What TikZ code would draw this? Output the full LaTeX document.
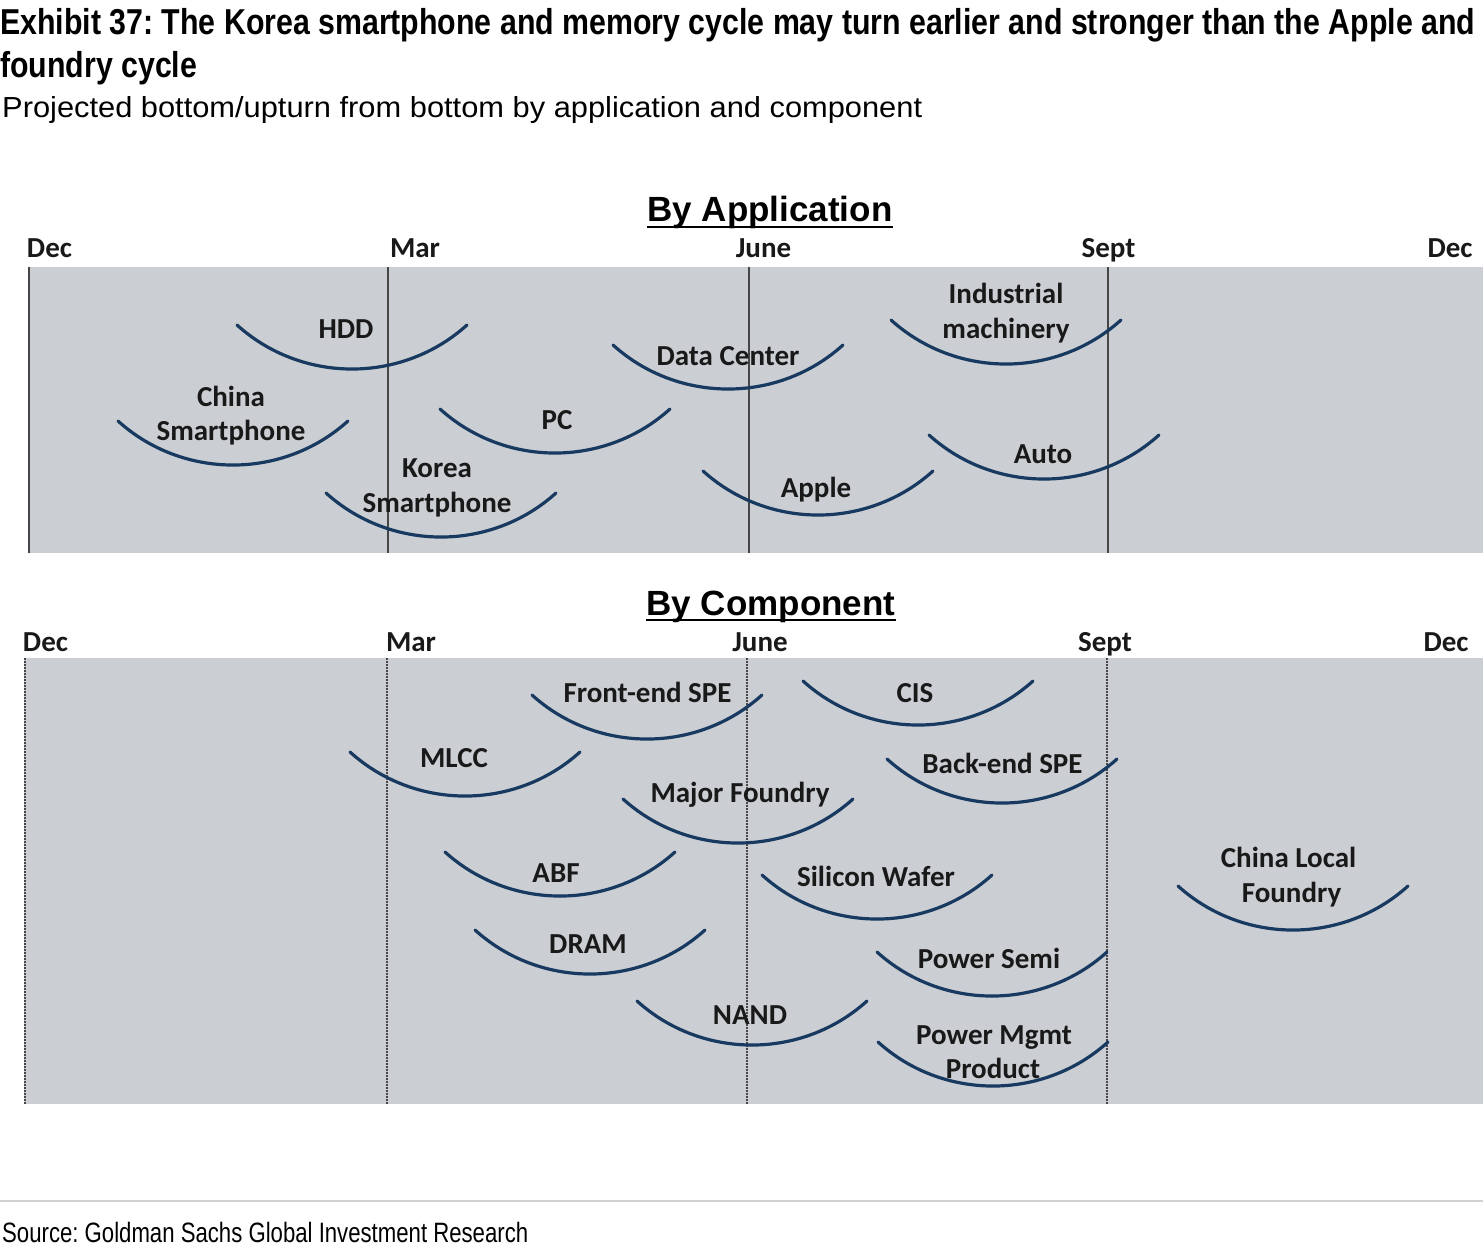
\documentclass[tikz,border=0pt]{standalone}
\usepackage{fontspec}
\setmainfont{Liberation Sans}
\newfontfamily\calib{Carlito}
\usepackage{graphicx}
\frenchspacing
\definecolor{panel}{RGB}{203,206,211}
\definecolor{arcblue}{RGB}{24,58,96}
\definecolor{vline}{RGB}{70,70,70}
\definecolor{ink}{RGB}{25,25,25}
\tikzset{
  lbl/.style={anchor=base, inner sep=0pt, font=\calib\bfseries\fontsize{29}{35}\selectfont, text=ink},
  mon/.style={lbl},
  head/.style={anchor=base, inner sep=0pt, font=\bfseries\fontsize{35}{40}\selectfont, text=black},
  cyc/.style={draw=arcblue, line width=3.2pt, line cap=round},
  solidv/.style={draw=vline, line width=1.3pt},
  dashv/.style={draw=vline, line width=1.3pt, dash pattern=on 2pt off 1pt},
  ttl/.style={anchor=base west, inner sep=0pt, text=black},
}
\newcommand\cycarc[2]{\draw[cyc] ({#1-115},{#2-44}) .. controls ({#1-50},{#2+14.7}) and ({#1+50},{#2+14.7}) .. ({#1+115},{#2-44});}
\begin{document}
\begin{tikzpicture}[x=1pt,y=-1pt]
\useasboundingbox[fill=white] (0,0) rectangle (1483,1249);
% titles
\node[ttl] (t1) at (0,35) {\resizebox{1475pt}{\height}{\bfseries\fontsize{36}{40}\selectfont Exhibit 37: The Korea smartphone and memory cycle may turn earlier and stronger than the Apple and}};
\node[ttl] (t2) at (0,78) {\resizebox{197pt}{\height}{\bfseries\fontsize{36}{40}\selectfont foundry cycle}};
\node[ttl] (st) at (2,118) {\resizebox{920pt}{\height}{\fontsize{29}{32}\selectfont Projected bottom/upturn from bottom by application and component}};
% ===== By Application =====
\fill[panel] (28,267) rectangle (1483,553);
\foreach \xx in {29,388,749,1108} {\draw[solidv] (\xx,267) -- (\xx,553);}
\node[head] (ha) at (770,222) {By Application};
\draw[line width=2.5pt] ([yshift=-5pt]ha.base west) -- ([yshift=-5pt]ha.base east);
\node[mon] (m1) at (49.5,258) {Dec};
\node[mon] (m2) at (415,258) {Mar};
\node[mon] (m3) at (763.5,258) {June};
\node[mon] (m4) at (1108.5,258) {Sept};
\node[mon] (m5) at (1450,258) {Dec};
\cycarc{352}{369}
\cycarc{233}{465}
\cycarc{441}{537}
\cycarc{555}{453}
\cycarc{728}{389}
\cycarc{818}{515}
\cycarc{1006}{364}
\cycarc{1044}{479}
\node[lbl] (hdd) at (346,338) {HDD};
\node[lbl] (cs1) at (231,406) {China};
\node[lbl] (cs2) at (231,440) {Smartphone};
\node[lbl] (ks1) at (437,477) {Korea};
\node[lbl] (ks2) at (437,512) {Smartphone};
\node[lbl] (pc) at (557,429) {PC};
\node[lbl] (dc) at (728,365) {Data Center};
\node[lbl] (ap) at (816,497) {Apple};
\node[lbl] (im1) at (1006,304) {Industrial};
\node[lbl] (im2) at (1006,338) {machinery};
\node[lbl] (au) at (1043,463) {Auto};
% ===== By Component =====
\fill[panel] (24,658) rectangle (1483,1104);
\foreach \xx in {25,387,747,1107} {\draw[dashv] (\xx,658) -- (\xx,1104);}
\node[head] (hc) at (771,615) {By Component};
\draw[line width=2.5pt] ([yshift=-5pt]hc.base west) -- ([yshift=-5pt]hc.base east);
\node[mon] (n1) at (45.5,651) {Dec};
\node[mon] (n2) at (411,651) {Mar};
\node[mon] (n3) at (760,651) {June};
\node[mon] (n4) at (1105,651) {Sept};
\node[mon] (n5) at (1446,651) {Dec};
\cycarc{647}{739}
\cycarc{918}{725}
\cycarc{465}{796}
\cycarc{1002}{803}
\cycarc{738}{843}
\cycarc{560}{896}
\cycarc{877}{919}
\cycarc{1293}{930}
\cycarc{590}{974}
\cycarc{992}{996}
\cycarc{752}{1045}
\cycarc{993}{1086}
\node[lbl] (fe) at (647.5,702) {Front-end SPE};
\node[lbl] (cis) at (915,702) {CIS};
\node[lbl] (ml) at (454,767) {MLCC};
\node[lbl] (be) at (1002.5,773) {Back-end SPE};
\node[lbl] (mf) at (740,802) {Major Foundry};
\node[lbl] (abf) at (556,882) {ABF};
\node[lbl] (sw) at (876,886) {Silicon Wafer};
\node[lbl] (cl1) at (1288.5,867) {China Local};
\node[lbl] (cl2) at (1291.5,902) {Foundry};
\node[lbl] (dr) at (588,953) {DRAM};
\node[lbl] (ps) at (989,968) {Power Semi};
\node[lbl] (nd) at (750,1024) {NAND};
\node[lbl] (pm1) at (994,1044) {Power Mgmt};
\node[lbl] (pm2) at (993,1078) {Product};
% source
\draw[draw=black!18, line width=1.5pt] (0,1201) -- (1483,1201);
\node[ttl] (src) at (2,1242) {\resizebox{526pt}{\height}{\fontsize{28}{32}\selectfont Source: Goldman Sachs Global Investment Research}};
\end{tikzpicture}
\end{document}
